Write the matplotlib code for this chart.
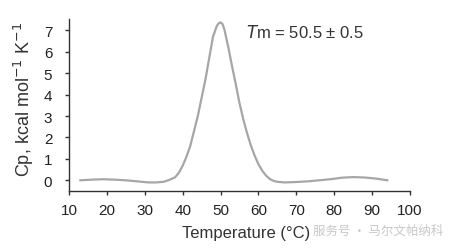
import numpy as np
import matplotlib
matplotlib.use("Agg")
import matplotlib.pyplot as plt

plt.rcParams['font.family'] = ['Liberation Sans', 'DejaVu Sans']

# DSC trace
temp = [13, 16, 19, 22, 25, 28, 31, 33, 35, 36.5, 38, 39, 40, 41, 42, 43, 44, 45, 46, 47, 48,
        49, 49.5, 50, 50.5, 51, 52, 53, 54, 55, 56, 57, 58, 59, 60, 61, 62, 63, 64, 65, 67, 70,
        73, 76, 79, 82, 85, 88, 91, 94]
cp = [0.0, 0.03, 0.05, 0.03, 0.0, -0.05, -0.1, -0.1, -0.07, 0.02, 0.14, 0.35, 0.68, 1.1, 1.6,
      2.3, 3.0, 3.85, 4.7, 5.7, 6.7, 7.2, 7.33, 7.37, 7.3, 7.05, 6.25, 5.35, 4.5, 3.6, 2.85,
      2.2, 1.62, 1.15, 0.75, 0.45, 0.22, 0.06, -0.03, -0.07, -0.1, -0.08,
      -0.05, 0.0, 0.05, 0.12, 0.15, 0.13, 0.08, 0.0]
xticks = [10, 20, 30, 40, 50, 60, 70, 80, 90, 100]
yticks = [0, 1, 2, 3, 4, 5, 6, 7]

fig = plt.figure(figsize=(4.51, 2.53), dpi=100)
ax = fig.add_axes([69/451, 1 - 192/253, (410 - 69)/451, (192 - 20)/253])

ax.plot(temp, cp, color='#a6a6a6', linewidth=1.6, solid_joinstyle='round')

ax.set_xlim(10, 100)
ax.set_ylim(-0.5, 7.53)
ax.set_xticks(xticks)
ax.set_yticks(yticks)
for s in ['top', 'right']:
    ax.spines[s].set_visible(False)
for s in ['left', 'bottom']:
    ax.spines[s].set_color('#333333')
    ax.spines[s].set_linewidth(1.0)
ax.tick_params(colors='#333333', labelsize=11, length=3, width=1.0, pad=6)
ax.tick_params(axis='y', pad=9)
for lab in ax.get_xticklabels() + ax.get_yticklabels():
    lab.set_color('#222222')

ax.set_xlabel('Temperature (°C)', fontsize=12, color='#333333')
ax.xaxis.set_label_coords(0.52, -0.2)
ax.set_ylabel('Cp, kcal mol$^{-1}$ K$^{-1}$', fontsize=13, color='#333333')
ax.yaxis.set_label_coords(-0.097, 0.54)

ax.text(0.52, 0.93, r'$T$m = 50.5 ± 0.5', transform=ax.transAxes, fontsize=12,
        color='#333333', va='center', ha='left')

# watermark
fig.text(0.693, 0.085, '服务号 · 马尔文帕纳科', fontsize=9, color='#c8c8c8',
         family=['Noto Sans CJK SC', 'DejaVu Sans'], va='center', ha='left')

fig.savefig('out.png', dpi=100)
